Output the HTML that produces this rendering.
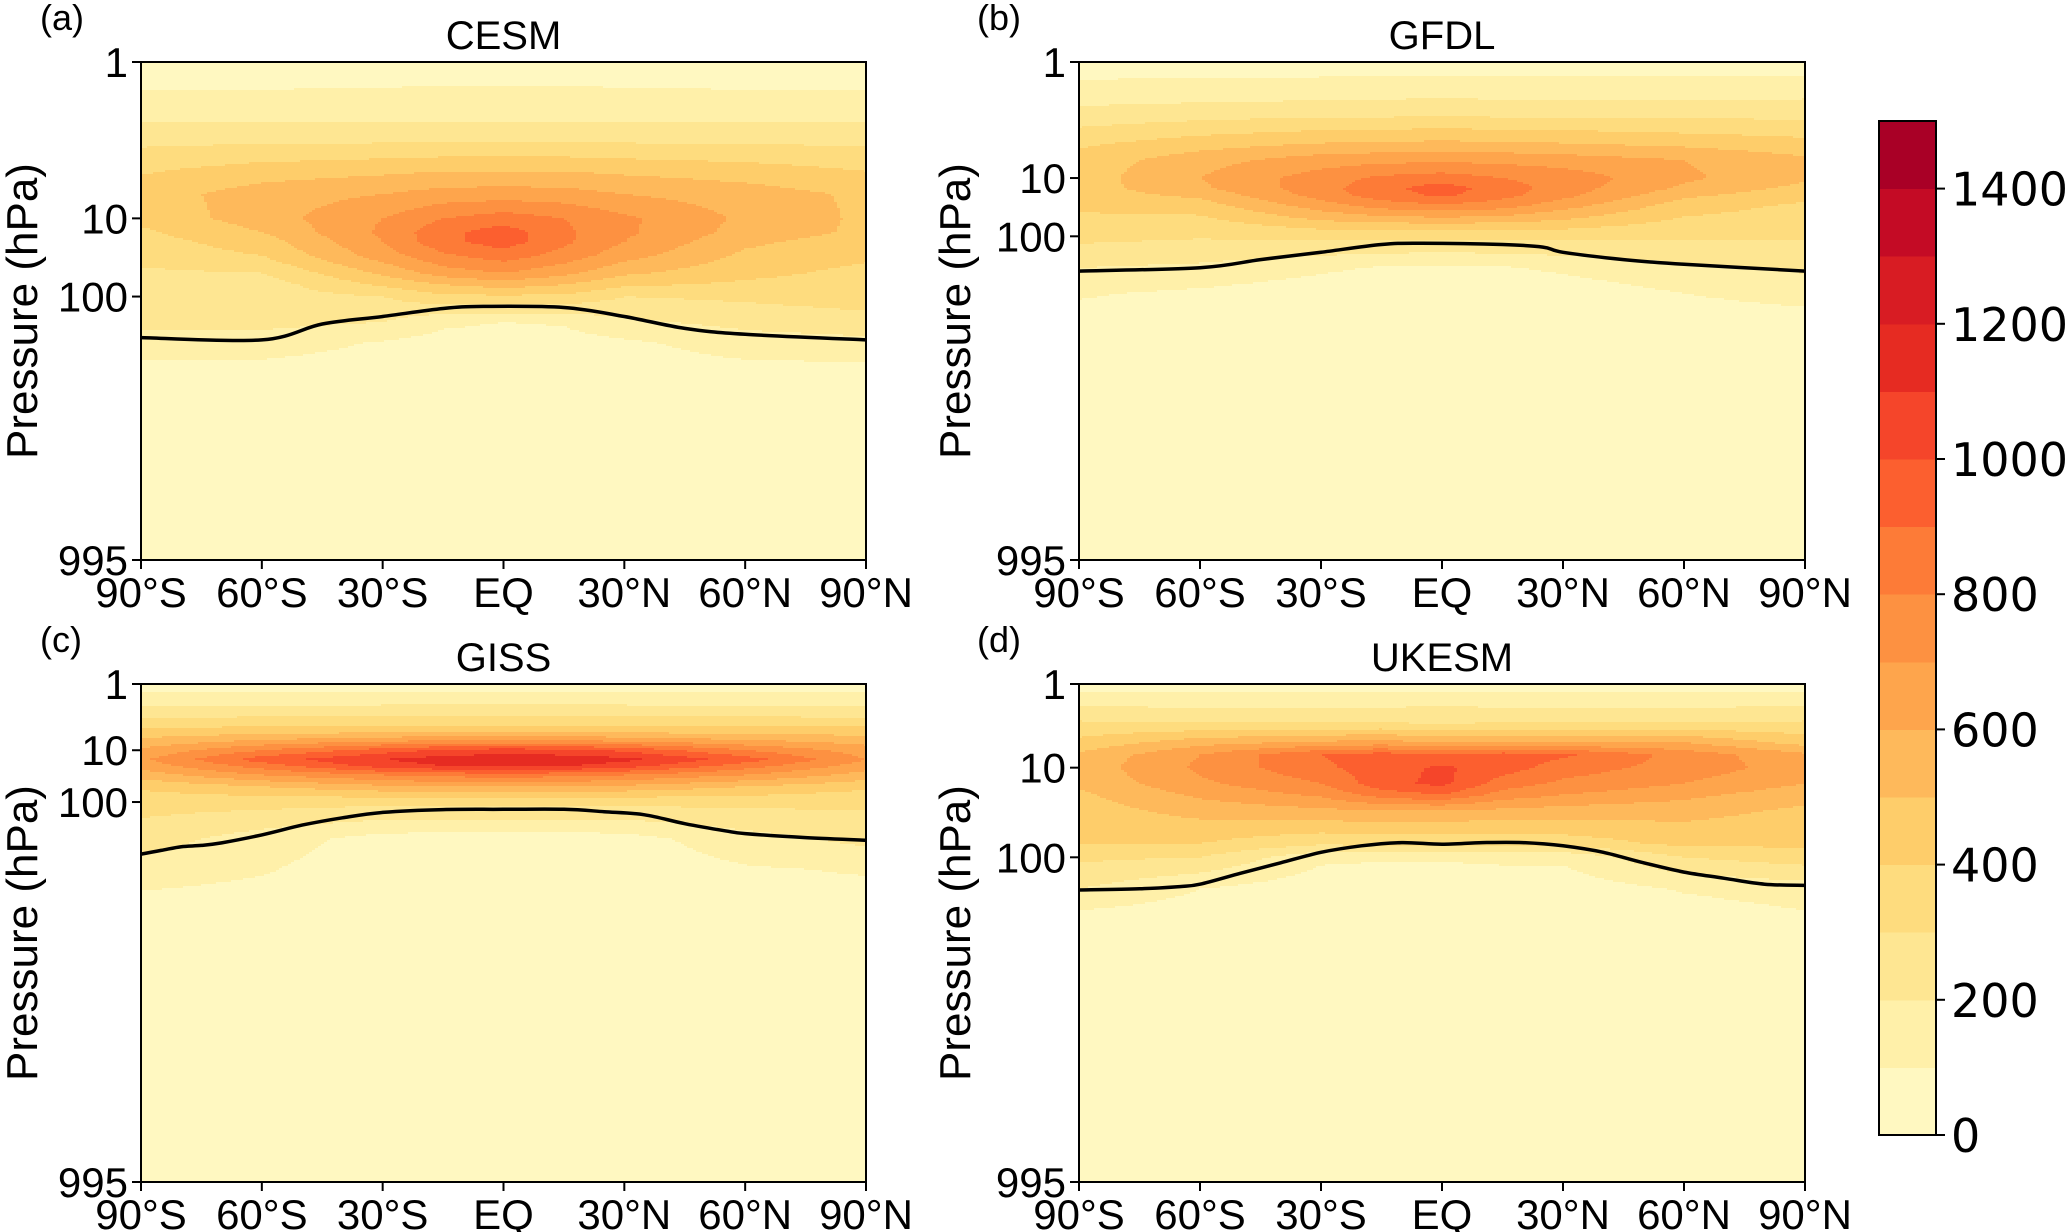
<!DOCTYPE html>
<html><head><meta charset="utf-8">
<style>
html,body{margin:0;padding:0;background:#fff;}
svg{display:block;font-family:"Liberation Sans",Arial,sans-serif;}
</style></head>
<body>
<svg id="fig" width="2067" height="1232" viewBox="0 0 2067 1232" xmlns="http://www.w3.org/2000/svg"></svg>
<script>
// ---------- shared data ----------
const lats = [-90,-60,-30,-15,0,15,30,60,90];
const levels = [1,2,3,5,7,10,15,20,30,50,70,100,125,150,200,300,995];
const yTickLabels = ["1","10","100","995"];
const yTickValues = [1,10,100,995];
const xTickValues = [-90,-60,-30,0,30,60,90];
const xTickLabels = ["90°S","60°S","30°S","EQ","30°N","60°N","90°N"];
const cbarTicks = [0,200,400,600,800,1000,1200,1400];
const cbarBounds = [0,100,200,300,400,500,600,700,800,900,1000,1100,1200,1300,1400,1500];
const cbarColors = ["#fff8c1","#fff0a9","#fee692","#fedc7e","#fecd6a","#feb95b","#fea54c","#fd9141","#fd7b37","#fc5f2f","#f5452a","#e62b22","#d81c23","#c40b25","#a90026"];

const titles = ["CESM","GFDL","GISS","UKESM"];
const panelLetters = ["(a)","(b)","(c)","(d)"];
const yTickFracA = [0,0.314,0.471,1];
const yTickFracB = [0,0.233,0.35,1];
const yTickFracC = [0,0.133,0.237,1];
const yTickFracD = [0,0.168,0.348,1];

const gridA = [
[30,30,40,50,50,50,40,30,30],
[150,150,150,150,150,150,150,150,150],
[260,260,260,260,260,260,260,260,260],
[390,450,480,500,500,500,480,450,400],
[450,550,600,640,650,640,600,550,480],
[430,550,700,800,850,800,720,580,480],
[380,500,720,870,950,820,720,560,480],
[360,450,700,870,950,820,700,520,450],
[340,400,650,780,850,760,640,480,420],
[280,300,520,650,700,630,520,430,370],
[260,250,420,500,550,500,420,380,350],
[250,250,300,380,380,380,300,320,350],
[230,230,200,120,100,110,180,230,260],
[150,150,90,60,50,60,80,150,170],
[50,50,40,30,30,30,40,50,50],
[20,20,20,20,20,20,20,20,20],
[10,10,10,10,10,10,10,10,10]];
const gridB = [
[40,40,40,40,40,40,40,40,40],
[160,170,180,180,200,180,180,180,190],
[250,280,300,300,310,300,300,290,290],
[380,450,500,510,520,510,500,470,430],
[440,560,650,670,680,670,650,600,520],
[450,600,750,820,850,800,760,620,520],
[450,580,760,870,950,850,750,580,470],
[450,520,740,850,920,830,730,520,430],
[420,450,650,740,780,740,640,450,380],
[380,380,520,560,580,560,510,390,350],
[350,340,420,430,430,430,420,350,330],
[330,310,330,330,330,330,330,320,310],
[200,180,120,90,80,90,120,180,220],
[110,80,40,30,30,30,40,100,130],
[40,40,40,40,40,40,40,40,40],
[20,20,20,20,20,20,20,20,20],
[10,10,10,10,10,10,10,10,10]];
const gridC = [
[50,50,50,50,50,50,50,50,50],
[180,190,190,190,190,190,190,190,180],
[270,290,300,300,300,300,300,290,280],
[420,440,450,450,450,450,450,440,440],
[520,600,660,680,690,680,660,600,550],
[620,800,950,1020,1050,1030,980,800,650],
[680,950,1100,1150,1170,1160,1130,950,700],
[640,850,1050,1100,1120,1110,1050,850,650],
[550,700,800,840,850,840,800,700,560],
[420,500,580,600,600,600,580,500,430],
[380,420,450,450,450,450,450,420,370],
[340,340,330,330,330,330,330,330,320],
[250,150,60,50,50,50,60,160,230],
[150,110,40,40,40,40,40,90,110],
[40,40,40,40,40,40,40,40,40],
[20,20,20,20,20,20,20,20,20],
[10,10,10,10,10,10,10,10,10]];
const gridD = [
[50,50,50,50,50,50,50,50,50],
[220,210,210,210,220,210,210,210,220],
[320,310,310,310,300,310,310,310,320],
[430,560,620,640,600,600,600,600,460],
[520,700,900,950,900,950,920,760,620],
[540,720,880,950,1020,950,850,760,650],
[520,680,800,960,1030,850,780,700,600],
[480,620,720,850,900,760,700,630,540],
[450,540,580,600,600,580,560,540,480],
[420,450,420,430,420,420,430,470,440],
[400,400,320,330,330,330,340,430,420],
[320,300,120,110,110,120,120,300,350],
[200,100,40,40,40,40,40,110,150],
[80,50,30,30,30,30,30,50,90],
[40,40,40,40,40,40,40,40,40],
[20,20,20,20,20,20,20,20,20],
[10,10,10,10,10,10,10,10,10]];

const tropLatA = [-90,-60,-45,-30,-15,-5,15,30,45,60,90];
const tropPA   = [143,146,127,119,111,109,110,119,132,139,146];
const tropLatB = [-90,-60,-45,-30,-15,-5,15,25,30,45,60,90];
const tropPB   = [128,125,118,112,106,105,106,108,112,118,122,128];
const tropLatC = [-90,-85,-80,-75,-70,-60,-50,-40,-30,-15,0,15,25,35,45,55,60,75,90];
const tropPC   = [137,134,131,130,128,122,115,110,106.5,104.7,104.5,104.5,106,108,114,119,121,124,126];
const tropLatD = [-90,-75,-65,-60,-50,-40,-30,-20,-10,0,10,20,30,40,50,60,70,80,90];
const tropPD   = [126,125,123,121,112,104,88,74.5,68.6,71.5,68.6,68.6,74.5,88,104,111,116,121,122];

// ---------- rendering ----------
const NS = "http://www.w3.org/2000/svg";
const svg = document.getElementById("fig");
function mk(tag, attrs, parent){
  const e = document.createElementNS(NS, tag);
  for (const k in attrs) e.setAttribute(k, attrs[k]);
  (parent||svg).appendChild(e);
  return e;
}
function colorFor(v){
  for (let i=0;i<cbarColors.length;i++){ if (v < cbarBounds[i+1]) return cbarColors[i]; }
  return cbarColors[cbarColors.length-1];
}

const panels = [
  {x0:141,x1:866,y0:62,y1:560,grid:gridA,yf:yTickFracA,tl:tropLatA,tp:tropPA,key:"a",letterX:40,pressX:22},
  {x0:1079,x1:1805,y0:62,y1:560,grid:gridB,yf:yTickFracB,tl:tropLatB,tp:tropPB,key:"b",letterX:977,pressX:955},
  {x0:141,x1:866,y0:684,y1:1182,grid:gridC,yf:yTickFracC,tl:tropLatC,tp:tropPC,key:"c",letterX:40,pressX:22},
  {x0:1079,x1:1805,y0:684,y1:1182,grid:gridD,yf:yTickFracD,tl:tropLatD,tp:tropPD,key:"d",letterX:977,pressX:955}
];

panels.forEach((P, idx) => {
  const W = P.x1-P.x0, H = P.y1-P.y0;
  const lg = yTickValues.map(v=>Math.log10(v));
  const xScale = lat => P.x0 + (lat+90)/180*W;
  const yScale = p => {
    const l = Math.log10(p);
    for (let i=0;i<3;i++){
      if (l <= lg[i+1] || i===2){
        const t = (l-lg[i])/(lg[i+1]-lg[i]);
        return P.y0 + (P.yf[i] + t*(P.yf[i+1]-P.yf[i]))*H;
      }
    }
  };
  const yInv = y => {
    const f = (y-P.y0)/H;
    for (let i=0;i<3;i++){
      if (f <= P.yf[i+1] || i===2){
        const t = (f-P.yf[i])/(P.yf[i+1]-P.yf[i]);
        return Math.pow(10, lg[i]+t*(lg[i+1]-lg[i]));
      }
    }
  };
  const lgLev = levels.map(v=>Math.log10(v));
  function sample(lat, p){
    const l = Math.log10(p);
    let r = 0; while (r < levels.length-2 && l > lgLev[r+1]) r++;
    let tr = (l-lgLev[r])/(lgLev[r+1]-lgLev[r]); tr=Math.max(0,Math.min(1,tr));
    let c = 0; while (c < lats.length-2 && lat > lats[c+1]) c++;
    let tc = (lat-lats[c])/(lats[c+1]-lats[c]); tc=Math.max(0,Math.min(1,tc));
    const g = P.grid;
    const a = g[r][c]*(1-tc)+g[r][c+1]*tc;
    const b = g[r+1][c]*(1-tc)+g[r+1][c+1]*tc;
    return a*(1-tr)+b*tr;
  }
  const gp = mk("g",{},svg);
  
  
  const field = mk("g",{"shape-rendering":"crispEdges"},gp);
  
  
  mk("rect",{x:P.x0,y:P.y0,width:W,height:H,fill:cbarColors[0]},field);
  const dx = 3, dy = 2;
  for (let y=P.y0; y<P.y1; y+=dy){
    const p = yInv(y+dy/2);
    let runStart = P.x0, runCol = null;
    let x = P.x0;
    while (true){
      const done = x >= P.x1;
      let col = null;
      if (!done){
        const lat = -90 + (Math.min(x+dx/2,P.x1)-P.x0)/W*180;
        col = colorFor(sample(lat,p));
      }
      if (col !== runCol){
        if (runCol && runCol !== cbarColors[0]){
          const cell = mk("rect",{x:runStart,y:y,width:Math.min(x,P.x1)-runStart,height:Math.min(dy,P.y1-y),fill:runCol},field);
          
          
        }
        runStart = x; runCol = col;
      }
      if (done) break;
      x += dx;
    }
  }
  // tropopause line (smooth Catmull-Rom)
  const pts = P.tl.map((la,i)=>[xScale(la), yScale(P.tp[i])]);
  let d = "M"+pts[0][0].toFixed(1)+","+pts[0][1].toFixed(1);
  for (let i=0;i<pts.length-1;i++){
    const p0 = pts[Math.max(0,i-1)], p1 = pts[i], p2 = pts[i+1], p3 = pts[Math.min(pts.length-1,i+2)];
    const c1 = [p1[0]+(p2[0]-p0[0])/6, p1[1]+(p2[1]-p0[1])/6];
    const c2 = [p2[0]-(p3[0]-p1[0])/6, p2[1]-(p3[1]-p1[1])/6];
    d += "C"+c1[0].toFixed(1)+","+c1[1].toFixed(1)+" "+c2[0].toFixed(1)+","+c2[1].toFixed(1)+" "+p2[0].toFixed(1)+","+p2[1].toFixed(1);
  }
  const line = mk("path",{d:d,fill:"none",stroke:"#000","stroke-width":3.5,"stroke-linejoin":"round"},gp);
  
  
  const fr = mk("rect",{x:P.x0,y:P.y0,width:W,height:H,fill:"none",stroke:"#000","stroke-width":2},gp);
  
  
  yTickValues.forEach((v,i)=>{
    const y = yScale(v);
    mk("line",{x1:P.x0-9,x2:P.x0,y1:y,y2:y,stroke:"#000","stroke-width":2},gp);
    const t = mk("text",{x:P.x0-13,y:y+15,"text-anchor":"end","font-size":42,fill:"#000"},gp);
    t.textContent = yTickLabels[i];
    
    
  });
  xTickValues.forEach((v,i)=>{
    const x = xScale(v);
    mk("line",{x1:x,x2:x,y1:P.y1,y2:P.y1+9,stroke:"#000","stroke-width":2},gp);
    const t = mk("text",{x:x,y:P.y1+47,"text-anchor":"middle","font-size":42,fill:"#000"},gp);
    t.textContent = xTickLabels[i];
    
    
  });
  const ti = mk("text",{x:(P.x0+P.x1)/2,y:P.y0-13,"text-anchor":"middle","font-size":40,fill:"#000"},gp);
  ti.textContent = titles[idx];
  
  
  const le = mk("text",{x:P.letterX,y:P.y0-32,"font-size":36,fill:"#000"},gp);
  le.textContent = panelLetters[idx];
  
  
  const cy = (P.y0+P.y1)/2;
  const yl = mk("text",{x:P.pressX,y:cy,"text-anchor":"middle","font-size":44,fill:"#000",transform:`rotate(-90 ${P.pressX} ${cy}) translate(0 15)`},gp);
  yl.textContent = "Pressure (hPa)";
  
  
});

// ---------- colorbar ----------
const cb = {x0:1879,x1:1936,y0:121,y1:1135};
const cbg = mk("g",{"shape-rendering":"crispEdges"},svg);


const cbY = v => cb.y1 - (v-cbarBounds[0])/(cbarBounds[cbarBounds.length-1]-cbarBounds[0])*(cb.y1-cb.y0);
cbarColors.forEach((c,i)=>{
  const r = mk("rect",{x:cb.x0,y:cbY(cbarBounds[i+1]),width:cb.x1-cb.x0,height:cbY(cbarBounds[i])-cbY(cbarBounds[i+1])+0.5,fill:c},cbg);
  
  
});
mk("rect",{x:cb.x0,y:cb.y0,width:cb.x1-cb.x0,height:cb.y1-cb.y0,fill:"none",stroke:"#000","stroke-width":2},svg);
cbarTicks.forEach(v=>{
  const y = cbY(v);
  mk("line",{x1:cb.x1,x2:cb.x1+9,y1:y,y2:y,stroke:"#000","stroke-width":2},svg);
  const t = mk("text",{x:cb.x1+15,y:y+17,"font-size":46,fill:"#000","font-family":"'DejaVu Sans',sans-serif"},svg);
  t.textContent = String(v);
  
  
});
</script>
</body></html>
